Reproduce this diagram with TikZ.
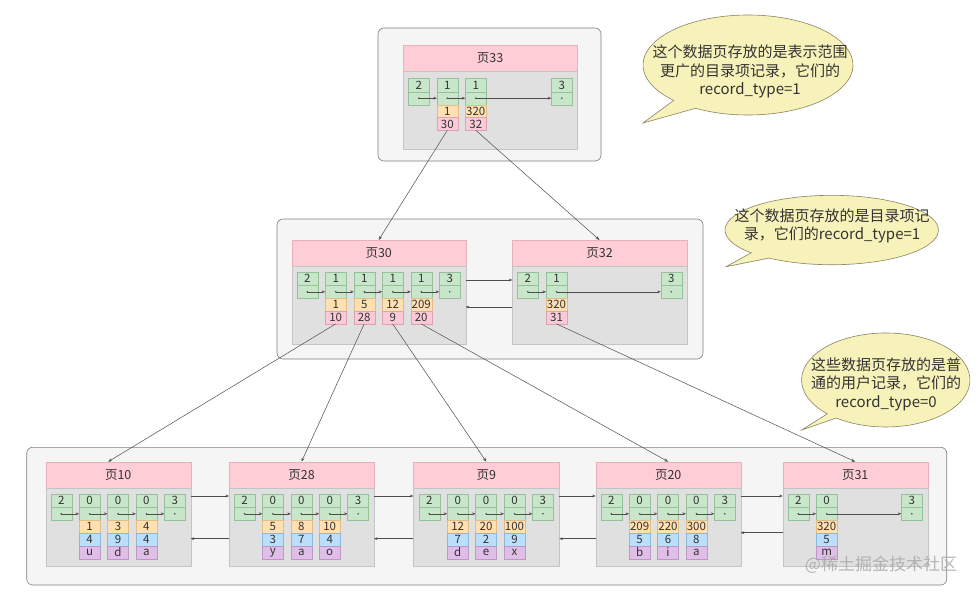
\documentclass[tikz,border=0pt]{standalone}
\usepackage{fontspec}
\setmainfont{Noto Sans CJK SC}
\usetikzlibrary{arrows.meta}
\definecolor{outerfill}{HTML}{F5F5F5}
\definecolor{outerdraw}{HTML}{808080}
\definecolor{hdrfill}{HTML}{FFCDD5}
\definecolor{hdrdraw}{HTML}{E9B0BB}
\definecolor{bdyfill}{HTML}{E0E0E0}
\definecolor{bdydraw}{HTML}{C4C4C4}
\definecolor{gfill}{HTML}{C8E6C9}
\definecolor{gdraw}{HTML}{94C296}
\definecolor{ofill}{HTML}{FFE0B2}
\definecolor{odraw}{HTML}{E3BD86}
\definecolor{kfill}{HTML}{FACAD6}
\definecolor{kdraw}{HTML}{E0A2B2}
\definecolor{bfill}{HTML}{BBDEFB}
\definecolor{bdraw}{HTML}{8DB8DE}
\definecolor{ufill}{HTML}{E1BEE7}
\definecolor{udraw}{HTML}{BF96C8}
\definecolor{cofill}{HTML}{F7F2B9}
\definecolor{codraw}{HTML}{8A8460}
\definecolor{txt}{HTML}{333333}
\definecolor{ln}{HTML}{4D4D4D}
\newcommand\pg[5]{%
  \node[hdr, minimum width=#4pt, anchor=north west] (#1) at (#2,#3) {#5};
  \node[bdy, minimum width=#4pt, anchor=north] (#1body) at (#1.south) {};
}
\newcommand\rc[4]{%
  \node[gc, anchor=north west] (#1) at (#2,#3) {#4};
  \node[gc, anchor=north] (#1p) at (#1.south) {};
  \fill[ln] (#1p.center) circle (0.9pt);
}
\newcommand\dc[4]{%
  \node[#3, anchor=north] (#1) at (#2.south) {#4};
}
\newcommand\drec[5]{%
  \rc{#1}{#2}{494.3}{0}
  \dc{#1o}{#1p}{oc}{#3}
  \dc{#1b}{#1o}{bc}{#4}
  \dc{#1u}{#1b}{uc}{#5}
}
\newcommand\irec[5]{%
  \rc{#1}{#2}{#3}{1}
  \dc{#1o}{#1p}{oc}{#4}
  \dc{#1k}{#1o}{kc}{#5}
}
\begin{document}
\begin{tikzpicture}[x=1pt,y=-1pt,
  outer/.style={draw=outerdraw, fill=outerfill, rounded corners=6pt, line width=0.6pt, inner sep=0pt, outer sep=0pt},
  hdr/.style={draw=hdrdraw, fill=hdrfill, minimum height=26pt, inner sep=0pt, outer sep=0pt, line width=0.4pt, text=txt, font=\fontsize{12.5}{13}\selectfont},
  bdy/.style={draw=bdydraw, fill=bdyfill, minimum height=78pt, inner sep=0pt, outer sep=0pt, line width=0.4pt},
  cellbase/.style={minimum width=21pt, inner sep=0pt, outer sep=0pt, line width=0.4pt, text=txt, font=\fontsize{11.5}{12}\selectfont},
  gc/.style={cellbase, draw=gdraw, fill=gfill, minimum height=13pt},
  oc/.style={cellbase, draw=odraw, fill=ofill, minimum height=12.8pt},
  kc/.style={cellbase, draw=kdraw, fill=kfill, minimum height=12.8pt},
  bc/.style={cellbase, draw=bdraw, fill=bfill, minimum height=12.8pt},
  uc/.style={cellbase, draw=udraw, fill=ufill, minimum height=12.8pt},
  ptr/.style={draw=ln, line width=0.5pt, -{Stealth[length=3.5pt,width=2.8pt]}},
  conn/.style={draw=ln, line width=0.5pt, -{Stealth[length=4pt,width=3pt]}},
  callout/.style={draw=codraw, fill=cofill, line width=0.6pt},
  cotext/.style={align=center, text=txt, font=\fontsize{15}{18.5}\selectfont, inner sep=0pt}
]
\useasboundingbox (0,0) rectangle (980,594);
\fill[white] (0,0) rectangle (980,594);

% outer boxes
\node[outer, minimum width=223pt, minimum height=133pt, anchor=north west] (box1) at (378,28) {};
\node[outer, minimum width=426pt, minimum height=140pt, anchor=north west] (box2) at (277,219) {};
\node[outer, minimum width=920pt, minimum height=137.7pt, anchor=north west] (box3) at (26.7,447.3) {};

% pages
\pg{p33}{403}{45}{174}{页33}
\pg{p30}{291.7}{240}{174}{页30}
\pg{p32}{512.3}{240}{174.4}{页32}
\pg{p10}{45.7}{461.7}{145}{页10}
\pg{p28}{229}{461.7}{145}{页28}
\pg{p9}{413.3}{461.7}{146}{页9}
\pg{p20}{595.7}{461.7}{145}{页20}
\pg{p31}{782.7}{461.7}{145}{页31}

% page 33
\rc{p33r0}{408.3}{78.7}{2}
\irec{p33r1}{436.8}{78.7}{1}{30}
\irec{p33r2}{465.3}{78.7}{320}{32}
\rc{p33r3}{551.3}{78.7}{3}
\foreach \i/\j in {0/1,1/2,2/3} \draw[ptr] (p33r\i p.center) -- (p33r\j p.west);

% page 30
\rc{p30r0}{296.7}{272.3}{2}
\irec{p30r1}{325.2}{272.3}{1}{10}
\irec{p30r2}{353.7}{272.3}{5}{28}
\irec{p30r3}{382.2}{272.3}{12}{9}
\irec{p30r4}{410.7}{272.3}{209}{20}
\rc{p30r5}{439.2}{272.3}{3}
\foreach \i/\j in {0/1,1/2,2/3,3/4,4/5} \draw[ptr] (p30r\i p.center) -- (p30r\j p.west);

% page 32
\rc{p32r0}{517.3}{272.3}{2}
\irec{p32r1}{546}{272.3}{320}{31}
\rc{p32r2}{660.7}{272.3}{3}
\foreach \i/\j in {0/1,1/2} \draw[ptr] (p32r\i p.center) -- (p32r\j p.west);

% page 10
\rc{p10r0}{50.7}{494.3}{2}
\drec{p10r1}{79.1}{1}{4}{u}
\drec{p10r2}{107.5}{3}{9}{d}
\drec{p10r3}{135.9}{4}{4}{a}
\rc{p10r4}{164.3}{494.3}{3}
% page 28
\rc{p28r0}{234}{494.3}{2}
\drec{p28r1}{262.4}{5}{3}{y}
\drec{p28r2}{290.8}{8}{7}{a}
\drec{p28r3}{319.2}{10}{4}{o}
\rc{p28r4}{347.6}{494.3}{3}
% page 9
\rc{p9r0}{418.8}{494.3}{2}
\drec{p9r1}{447.2}{12}{7}{d}
\drec{p9r2}{475.6}{20}{2}{e}
\drec{p9r3}{504}{100}{9}{x}
\rc{p9r4}{532.4}{494.3}{3}
% page 20
\rc{p20r0}{600.7}{494.3}{2}
\drec{p20r1}{629.1}{209}{5}{b}
\drec{p20r2}{657.5}{220}{6}{i}
\drec{p20r3}{685.9}{300}{8}{a}
\rc{p20r4}{714.3}{494.3}{3}
% page 31
\rc{p31r0}{787.7}{494.3}{2}
\drec{p31r1}{816.1}{320}{5}{m}
\rc{p31r2}{901.3}{494.3}{3}

\foreach \pp in {p10,p28,p9,p20}
  \foreach \i/\j in {0/1,1/2,2/3,3/4} \draw[ptr] (\pp r\i p.center) -- (\pp r\j p.west);
\foreach \i/\j in {0/1,1/2} \draw[ptr] (p31r\i p.center) -- (p31r\j p.west);

% sibling links, middle level
\draw[ptr] ([yshift=-14pt]p30body.north east) -- ([yshift=-14pt]p32body.north west);
\draw[ptr] ([yshift=-41pt]p32body.north west) -- ([yshift=-41pt]p30body.north east);

% sibling links, leaf level
\draw[ptr] ([yshift=-8.3pt]p10body.north east) -- ([yshift=-8.3pt]p28body.north west);
\draw[ptr] ([yshift=-51pt]p28body.north west) -- ([yshift=-51pt]p10body.north east);
\draw[ptr] ([yshift=-8.3pt]p28body.north east) -- ([yshift=-8.3pt]p9body.north west);
\draw[ptr] ([yshift=-51pt]p9body.north west) -- ([yshift=-51pt]p28body.north east);
\draw[ptr] ([yshift=-8.3pt]p9body.north east) -- ([yshift=-8.3pt]p20body.north west);
\draw[ptr] ([yshift=-51pt]p20body.north west) -- ([yshift=-51pt]p9body.north east);
\draw[ptr] ([yshift=-8.3pt]p20body.north east) -- ([yshift=-8.3pt]p31body.north west);
\draw[ptr] ([yshift=-45pt]p31body.north west) -- ([yshift=-45pt]p20body.north east);

% tree connectors
\draw[conn] (p33r1k.south) -- (p30.north);
\draw[conn] (p33r2k.south) -- (p32.north);
\draw[conn] (p30r1k.south) -- ([xshift=-10pt]p10.north);
\draw[conn] (p30r2k.south) -- (p28.north);
\draw[conn] (p30r3k.south) -- (p9.north);
\draw[conn] (p30r4k.south) -- (p20.north);
\draw[conn] (p32r1k.south) -- (p31.north);

% callouts
\draw[callout] (643,123) -- (695.5,108.3) arc[start angle=120, end angle=-225, x radius=105, y radius=50] -- cycle;
\node[cotext] (co1) at (750,71.5) {这个数据页存放的是表示范围\\更广的目录项记录，它们的\\record\_type=1};
\draw[callout] (726,266.7) -- (769,258.1) arc[start angle=126, end angle=-221, x radius=106.7, y radius=34.7] -- cycle;
\node[cotext] (co2) at (832,226) {这个数据页存放的是目录项记\\录，它们的record\_type=1};
\draw[callout] (801.7,430) -- (836.3,418) arc[start angle=126, end angle=-226, x radius=84.2, y radius=47] -- cycle;
\node[cotext] (co3) at (886,384) {这些数据页存放的是普\\通的用户记录，它们的\\record\_type=0};

% watermark
\node[text=gray!70, opacity=0.8, font=\fontsize{17}{17}\selectfont, inner sep=0pt] (wm) at (881,565) {@稀土掘金技术社区};
\end{tikzpicture}
\end{document}
